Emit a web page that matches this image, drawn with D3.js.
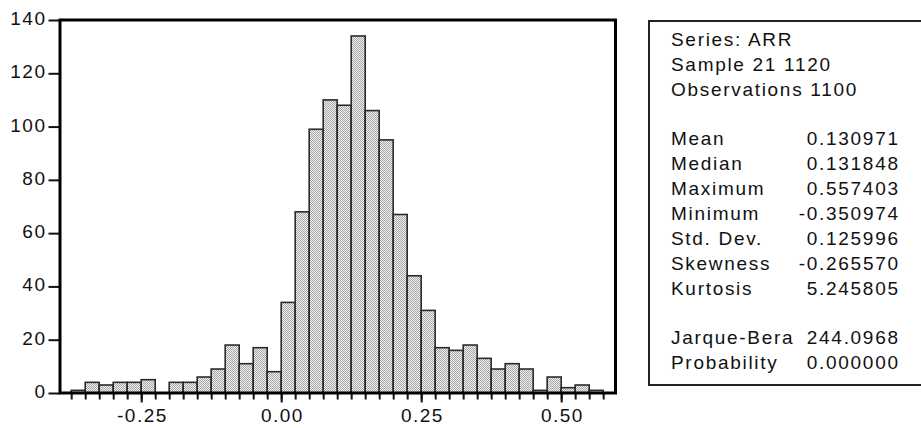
<!DOCTYPE html>
<html lang="en">
<head>
<meta charset="utf-8">
<title>ARR histogram</title>
<script src="https://d3js.org/d3.v7.min.js"></script>
<style>
  body { margin: 0; background: #fff; }
  text { font-family: "Liberation Sans", Arial, sans-serif; fill: #111; }
</style>
</head>
<body>
<svg width="921" height="428" id="mainsvg"></svg>
<script>
// histogram bins (left edges), width 0.025
const binStart = -0.375;
const binWidth = 0.025;
const counts = [1, 4, 3, 4, 4, 5, 0, 4, 4, 6, 9, 18, 11, 17, 8,
                34, 68, 99, 110, 108, 134, 106, 95, 67, 44, 31, 17, 16, 18, 13,
                9, 11, 9, 1, 6, 2, 3, 1];
const yTicks = [0, 20, 40, 60, 80, 100, 120, 140];
const xMajor = [-0.25, 0.00, 0.25, 0.50];

const headerLines = ['Series: ARR', 'Sample 21 1120', 'Observations 1100'];
const statNames = ['Mean', 'Median', 'Maximum', 'Minimum', 'Std. Dev.', 'Skewness', 'Kurtosis'];
const statValues = ['0.130971', '0.131848', '0.557403', '-0.350974', '0.125996', '-0.265570', '5.245805'];
const testNames = ['Jarque-Bera', 'Probability'];
const testValues = ['244.0968', '0.000000'];

const svg = d3.select('#mainsvg');
const axisFont = 19, axisLs = 1.5;
const boxFont = 19, boxLs = 1.7;

const frame = { left: 60, right: 615.5, top: 20, bottom: 393 };

const xScale = d3.scaleLinear()
    .domain([-0.395, 0.597])
    .range([frame.left, frame.right]);
const yScale = d3.scaleLinear()
    .domain([0, 140])
    .range([frame.bottom, frame.top]);

// halftone fill like the original
const defs = svg.append('defs');
const pat = defs.append('pattern')
    .attr('id', 'dots')
    .attr('width', 2).attr('height', 2)
    .attr('patternUnits', 'userSpaceOnUse');
pat.append('rect').attr('width', 2).attr('height', 2).attr('fill', '#f0f0f0');
pat.append('rect').attr('width', 1).attr('height', 1).attr('fill', '#a6a6a6');
pat.append('rect').attr('x', 1).attr('y', 1).attr('width', 1).attr('height', 1).attr('fill', '#a6a6a6');

const bins = counts.map((c, i) => ({ x0: binStart + i * binWidth, x1: binStart + (i + 1) * binWidth, n: c }));

svg.append('g').selectAll('rect')
    .data(bins.filter(d => d.n > 0))
    .enter().append('rect')
    .attr('x', d => xScale(d.x0))
    .attr('width', d => xScale(d.x1) - xScale(d.x0))
    .attr('y', d => yScale(d.n))
    .attr('height', d => yScale(0) - yScale(d.n))
    .attr('fill', 'url(#dots)')
    .attr('stroke', '#2a2a2a')
    .attr('stroke-width', 1.6);

// x axis: minor ticks at bin edges, major with labels
const edges = d3.range(counts.length + 1).map(i => +(binStart + i * binWidth).toFixed(3));

const xMinor = svg.append('g')
    .attr('transform', `translate(0,${frame.bottom})`)
    .call(d3.axisBottom(xScale).tickValues(edges).tickSize(6.5).tickFormat(''));
const xAxisG = svg.append('g')
    .attr('transform', `translate(0,${frame.bottom})`)
    .call(d3.axisBottom(xScale).tickValues(xMajor).tickSize(9.5).tickPadding(6)
        .tickFormat(d => d.toFixed(2)));

const yAxisG = svg.append('g')
    .attr('transform', `translate(${frame.left},0)`)
    .call(d3.axisLeft(yScale).tickValues(yTicks).tickSize(11.5).tickPadding(3.5));

[xMinor, xAxisG, yAxisG].forEach(g => {
    g.select('.domain').remove();
    g.selectAll('.tick line').attr('stroke', '#111').attr('stroke-width', 2);
    g.selectAll('.tick text')
        .attr('font-size', axisFont)
        .attr('font-family', '"Liberation Sans", Arial, sans-serif')
        .attr('fill', '#111')
        .attr('letter-spacing', axisLs);
});
xAxisG.selectAll('.tick text').attr('dx', axisLs / 2);
yAxisG.selectAll('.tick text').attr('dx', axisLs).attr('dy', '0.24em');

// plot frame
svg.append('rect')
    .attr('x', frame.left).attr('y', frame.top)
    .attr('width', frame.right - frame.left)
    .attr('height', frame.bottom - frame.top)
    .attr('fill', 'none')
    .attr('stroke', '#000')
    .attr('stroke-width', 3);

// statistics box
const box = svg.append('g');
box.append('rect')
    .attr('x', 649).attr('y', 21)
    .attr('width', 290).attr('height', 364)
    .attr('fill', 'none')
    .attr('stroke', '#222')
    .attr('stroke-width', 2);

const textLeft = 671, textRight = 898, firstBase = 46, lineH = 24.85;
const rows = [];
headerLines.forEach(t => rows.push({ label: t, value: '' }));
rows.push(null);
statNames.forEach((t, i) => rows.push({ label: t, value: statValues[i] }));
rows.push(null);
testNames.forEach((t, i) => rows.push({ label: t, value: testValues[i] }));

rows.forEach((r, i) => {
    if (!r) return;
    const y = firstBase + i * lineH;
    box.append('text')
        .attr('x', textLeft).attr('y', y)
        .attr('font-size', boxFont)
        .attr('letter-spacing', boxLs)
        .text(r.label);
    if (r.value) {
        box.append('text')
            .attr('x', textRight + boxLs).attr('y', y)
            .attr('text-anchor', 'end')
            .attr('font-size', boxFont)
            .attr('letter-spacing', boxLs)
            .text(r.value);
    }
});
</script>
</body>
</html>
